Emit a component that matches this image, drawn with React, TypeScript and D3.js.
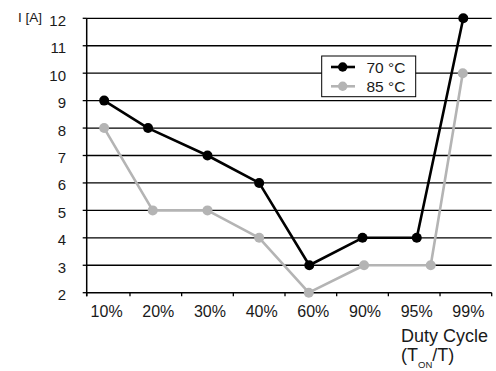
import React from "react";
import * as d3 from "d3";

const categories = ["10%", "20%", "30%", "40%", "60%", "90%", "95%", "99%"];
const yTicks = [2, 3, 4, 5, 6, 7, 8, 9, 10, 11, 12];
const values70 = [9, 8, 7, 6, 3, 4, 4, 12];
const values85 = [8, 5, 5, 4, 2, 3, 3, 10];
// horizontal position of each point, in category units (0 = centre of first category)
const pos70 = [0, 0.85, 2, 3, 3.97, 5, 6.05, 6.95];
const pos85 = [0, 0.94, 2, 3, 3.96, 5.03, 6.32, 6.94];
const seriesNames = ["70 °C", "85 °C"];

const W = 496;
const H = 371;
const FONT = "'Liberation Sans', Arial, Helvetica, sans-serif";

export default function App() {
  const x0 = 78.3;
  const x1 = 491.7;
  const axisX = 86.7;
  const y = d3.scaleLinear().domain([2, 12]).range([292.7, 18.3]);
  const band = d3.scaleBand().domain(categories).range([x0, x1]).padding(0);
  const bw = band.bandwidth();
  const xPos = d3.scaleLinear().domain([0, categories.length - 1]).range([x0 + bw / 2, x1 - bw / 2]);

  const line = d3
    .line<[number, number]>()
    .x((d) => xPos(d[0]))
    .y((d) => y(d[1]));

  const pts70: [number, number][] = values70.map((v, i) => [pos70[i], v]);
  const pts85: [number, number][] = values85.map((v, i) => [pos85[i], v]);

  const gray = "#b4b4b4";
  const tickXs = [axisX, ...categories.slice(1).map((c) => band(c) as number), x1];

  return (
    <svg
      width={W}
      height={H}
      style={{ position: "absolute", left: 0, top: 0, background: "#fff" }}
      fontFamily={FONT}
    >
      <rect x={0} y={0} width={W} height={H} fill="#fff" />
      {/* gridlines */}
      {yTicks.slice(1).map((t) => (
        <line key={t} x1={axisX} x2={x1} y1={y(t)} y2={y(t)} stroke="#000" strokeWidth={1.3} />
      ))}
      {/* x axis */}
      <line x1={axisX} x2={x1} y1={y(2)} y2={y(2)} stroke="#000" strokeWidth={1.5} />
      {tickXs.map((tx, i) => (
        <line key={i} x1={tx} x2={tx} y1={y(2)} y2={y(2) + 3.5} stroke="#000" strokeWidth={1.3} />
      ))}
      {/* y axis */}
      <line x1={axisX} x2={axisX} y1={y(12)} y2={y(2) + 3.5} stroke="#000" strokeWidth={1.5} />
      {yTicks.map((t) => (
        <line key={t} x1={axisX - 4} x2={axisX} y1={y(t)} y2={y(t)} stroke="#000" strokeWidth={1.3} />
      ))}
      {yTicks.map((t) => (
        <text key={t} x={66} y={y(t) + 2} textAnchor="end" dominantBaseline="central" fontSize={15} fill="#1a1a1a">
          {t}
        </text>
      ))}
      <text x={42} y={21.5} textAnchor="end" fontSize={13.5} fill="#1a1a1a">
        I [A]
      </text>
      {categories.map((c) => (
        <text key={c} x={(band(c) as number) + bw / 2 + 2.5} y={317} textAnchor="middle" fontSize={16} fill="#1a1a1a">
          {c}
        </text>
      ))}
      <text x={401} y={342} fontSize={18} fill="#1a1a1a">
        Duty Cycle
      </text>
      <text x={401} y={361} fontSize={18} fill="#1a1a1a">
        (T<tspan fontSize={9.5} dy={6.5}>ON</tspan>
        <tspan dy={-6.5}>/T)</tspan>
      </text>

      {/* series */}
      <path d={line(pts85) || ""} fill="none" stroke={gray} strokeWidth={2.6} strokeLinejoin="round" />
      {pts85.map((p, i) => (
        <circle key={i} cx={xPos(p[0])} cy={y(p[1])} r={5} fill={gray} />
      ))}
      <path d={line(pts70) || ""} fill="none" stroke="#000" strokeWidth={2.6} strokeLinejoin="round" />
      {pts70.map((p, i) => (
        <circle key={i} cx={xPos(p[0])} cy={y(p[1])} r={5} fill="#000" />
      ))}

      {/* legend */}
      <rect x={321.7} y={56} width={94} height={40.7} fill="#fff" stroke="#000" strokeWidth={1} />
      {seriesNames.map((n, i) => {
        const ly = 67 + i * 19.3;
        const col = i === 0 ? "#000" : gray;
        return (
          <g key={n}>
            <line x1={331} x2={355} y1={ly} y2={ly} stroke={col} strokeWidth={2.6} />
            <circle cx={342.7} cy={ly} r={4.7} fill={col} />
            <text x={366.5} y={ly + 0.5} dominantBaseline="central" fontSize={15.5} fill="#1a1a1a">
              {n}
            </text>
          </g>
        );
      })}
    </svg>
  );
}
